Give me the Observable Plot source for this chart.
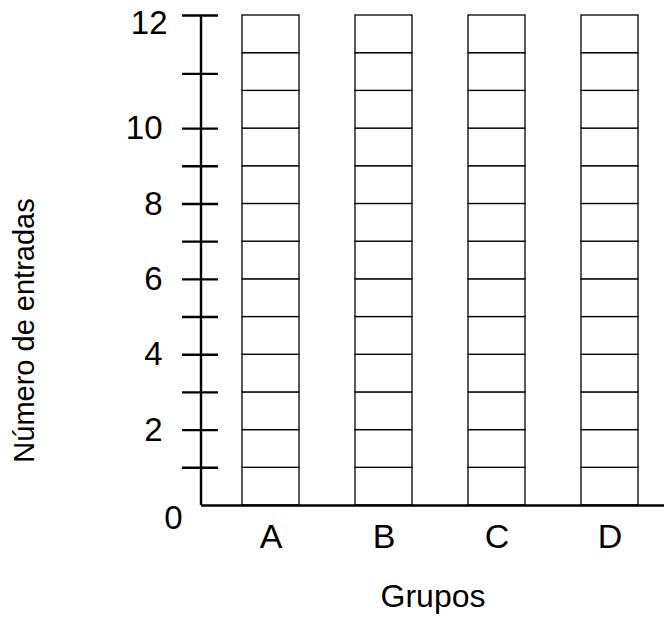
<!DOCTYPE html>
<html>
<head>
<meta charset="utf-8">
<script src="https://cdn.jsdelivr.net/npm/d3@7"></script>
<script src="https://cdn.jsdelivr.net/npm/@observablehq/plot@0.6"></script>
<style>
  html, body { margin: 0; padding: 0; background: #fff; }
  #chart svg { display: block; }
</style>
</head>
<body>
<div id="chart"></div>
<script>
// Groups and the number of (empty) grid cells drawn for each
const groups = ["A", "B", "C", "D"];
const cellsPerGroup = [13, 13, 13, 13];

// Y axis ticks (positions in grid-cell units) and their labels
const yMajorTicks = [0, 2, 4, 6, 8, 10, 13];
const yMajorLabels = ["0", "2", "4", "6", "8", "10", "12"];
const yMinorTicks = [1, 3, 5, 7, 9, 11.45];

const yTitle = "Número de entradas";
const xTitle = "Grupos";

const cells = groups.flatMap((g, gi) =>
  d3.range(cellsPerGroup[gi]).map(i => ({group: g, y1: i, y2: i + 1}))
);
const allTicks = yMajorTicks.slice(1).concat(yMinorTicks);
const midLabels = yMajorTicks.map((v, i) => ({v, label: yMajorLabels[i]})).slice(1, -1);
const topLabel = [{v: yMajorTicks[yMajorTicks.length - 1], label: yMajorLabels[yMajorLabels.length - 1]}];
const zeroLabel = [{v: yMajorTicks[0], label: yMajorLabels[0]}];

const W = 664, ML = 201;
const font = "'Liberation Sans', Arial, Helvetica, sans-serif";

const chart = Plot.plot({
  width: W,
  height: 628,
  marginLeft: ML,
  marginRight: 0,
  marginTop: 15,
  marginBottom: 123,
  style: {fontFamily: font, color: "black", background: "white"},
  x: {domain: groups, range: [212, 667], paddingInner: 0.5, paddingOuter: 0.25, axis: null},
  y: {domain: [0, 13], axis: null},
  marks: [
    Plot.rectY(cells, {x: "group", y1: "y1", y2: "y2", fill: "white", stroke: "black", strokeWidth: 1.3}),
    // y axis line
    Plot.rect([0], {y1: () => 0, y2: () => 13, insetLeft: -1.2, insetRight: W - ML - 1.2, fill: "black"}),
    // x axis line
    Plot.ruleY([0], {stroke: "black", strokeWidth: 2.6}),
    // crossing ticks
    Plot.ruleY(allTicks, {y: d => d, insetLeft: -19, insetRight: W - ML - 17, stroke: "black", strokeWidth: 2.4}),
    // tick labels
    Plot.text(midLabels, {y: "v", text: "label", frameAnchor: "left", dx: -39, textAnchor: "end", fontSize: 33}),
    Plot.text(topLabel, {y: "v", text: "label", frameAnchor: "left", dx: -34, dy: 8, textAnchor: "end", fontSize: 33}),
    Plot.text(zeroLabel, {y: "v", text: "label", frameAnchor: "left", dx: -28, dy: 13, textAnchor: "middle", fontSize: 33}),
    Plot.axisX({tickSize: 0, tickPadding: 18, fontSize: 34, label: null}),
    Plot.text([yTitle], {frameAnchor: "left", rotate: -90, textAnchor: "middle", dx: -177, dy: 70, fontSize: 29}),
    Plot.text([xTitle], {frameAnchor: "bottom", dy: 101, fontSize: 32})
  ]
});
document.getElementById("chart").appendChild(chart);
</script>
</body>
</html>
